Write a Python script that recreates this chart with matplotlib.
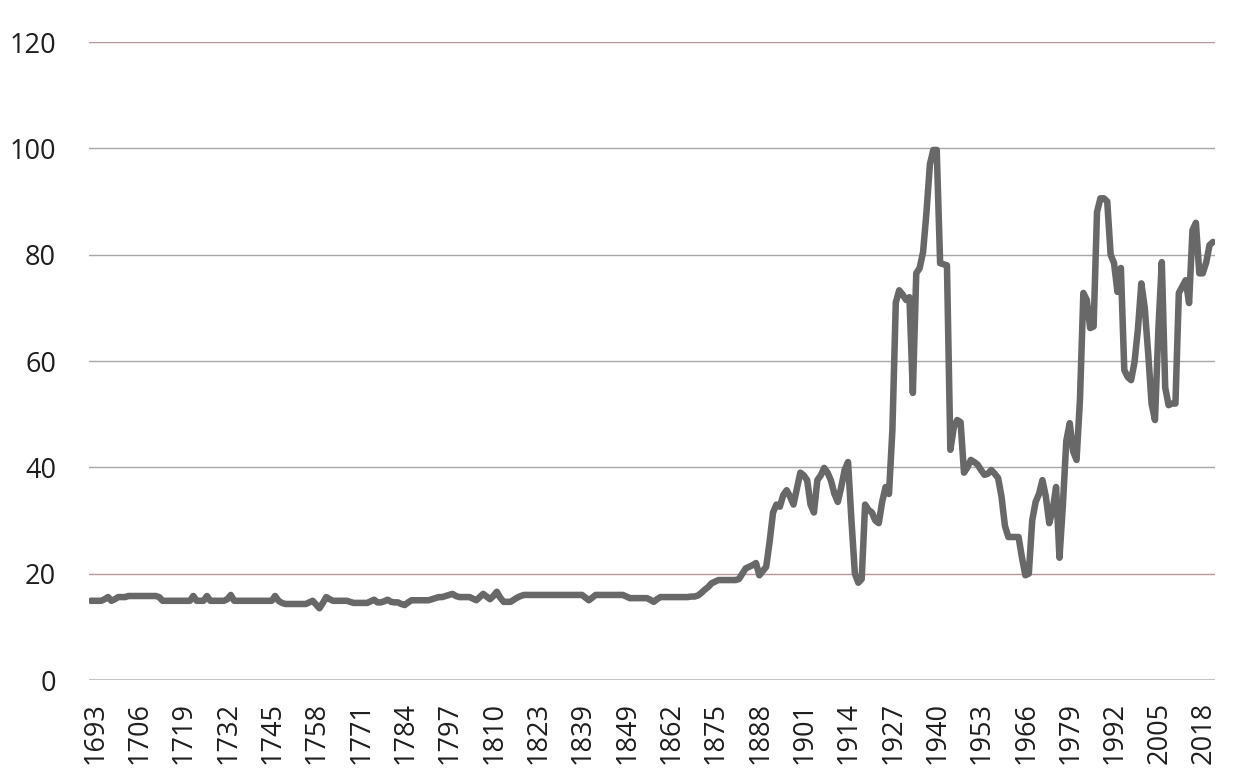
import numpy as np
import matplotlib
matplotlib.use("Agg")
import matplotlib.pyplot as plt
from matplotlib.transforms import ScaledTranslation

# one value per year, 1693 .. 2022
years = list(range(1693, 2023))
ratio = [
    14.9, 14.9, 14.9, 14.9, 15.2, 15.6, 14.9, 15.2, 15.6, 15.6,   # 1693
    15.6, 15.8, 15.8, 15.8, 15.8, 15.8, 15.8, 15.8, 15.8, 15.8,   # 1703
    15.6, 14.9, 14.9, 14.9, 14.9, 14.9, 14.9, 14.9, 14.9, 14.9,   # 1713
    15.8, 14.9, 14.9, 14.9, 15.8, 14.9, 14.9, 14.9, 14.9, 14.9,   # 1723
    15.2, 16.0, 14.9, 14.9, 14.9, 14.9, 14.9, 14.9, 14.9, 14.9,   # 1733
    14.9, 14.9, 14.9, 14.9, 15.8, 14.9, 14.5, 14.3, 14.3, 14.3,   # 1743
    14.3, 14.3, 14.3, 14.3, 14.6, 14.9, 14.2, 13.5, 14.5, 15.6,   # 1753
    15.2, 14.9, 14.9, 14.9, 14.9, 14.9, 14.7, 14.5, 14.5, 14.5,   # 1763
    14.5, 14.5, 14.8, 15.1, 14.6, 14.6, 14.8, 15.1, 14.7, 14.6,   # 1773
    14.6, 14.3, 14.1, 14.6, 15.0, 15.0, 15.0, 15.0, 15.0, 15.0,   # 1783
    15.2, 15.4, 15.6, 15.6, 15.8, 16.0, 16.2, 15.8, 15.6, 15.6,   # 1793
    15.6, 15.6, 15.3, 15.0, 15.6, 16.2, 15.7, 15.2, 15.8, 16.6,   # 1803
    15.5, 14.7, 14.7, 14.7, 15.1, 15.5, 15.8, 16.0, 16.0, 16.0,   # 1813
    16.0, 16.0, 16.0, 16.0, 16.0, 16.0, 16.0, 16.0, 16.0, 16.0,   # 1823
    16.0, 16.0, 16.0, 16.0, 16.0, 15.5, 15.0, 15.5, 16.0, 16.0,   # 1833
    16.0, 16.0, 16.0, 16.0, 16.0, 16.0, 16.0, 15.7, 15.4, 15.4,   # 1843
    15.4, 15.4, 15.4, 15.4, 15.1, 14.7, 15.2, 15.6, 15.6, 15.6,   # 1853
    15.6, 15.6, 15.6, 15.6, 15.6, 15.6, 15.7, 15.7, 15.9, 16.4,   # 1863
    17.0, 17.5, 18.2, 18.5, 18.8, 18.8, 18.8, 18.8, 18.8, 18.8,   # 1873
    19.0, 20.0, 21.0, 21.3, 21.6, 22.0, 19.7, 20.5, 21.3, 26.0,   # 1883
    31.5, 33.0, 32.6, 34.8, 35.7, 34.5, 33.0, 36.0, 39.0, 38.5,   # 1893
    37.6, 33.0, 31.5, 37.6, 38.5, 39.9, 39.0, 37.5, 35.0, 33.5,   # 1903
    36.3, 39.5, 41.0, 30.0, 20.0, 18.3, 19.0, 33.0, 32.0, 31.5,   # 1913
    30.0, 29.5, 33.5, 36.3, 35.0, 47.0, 71.0, 73.3, 72.5, 71.5,   # 1923
    72.0, 54.0, 76.5, 77.5, 80.5, 88.0, 97.0, 99.7, 99.7, 78.4,   # 1933
    78.2, 78.0, 43.3, 47.5, 48.9, 48.5, 39.0, 40.0, 41.4, 41.0,   # 1943
    40.5, 39.5, 38.6, 38.8, 39.5, 38.8, 38.0, 34.5, 29.0, 26.9,   # 1953
    26.9, 26.9, 26.9, 23.0, 19.7, 20.0, 30.0, 33.5, 35.0, 37.6,   # 1963
    34.5, 29.5, 32.0, 36.3, 23.0, 33.0, 45.0, 48.3, 43.0, 41.4,   # 1973
    52.7, 72.8, 71.5, 66.2, 66.5, 88.0, 90.6, 90.6, 90.0, 80.0,   # 1983
    78.4, 73.0, 77.5, 58.3, 57.0, 56.4, 59.8, 66.0, 74.6, 70.0,   # 1993
    61.5, 52.0, 48.9, 66.0, 78.6, 55.0, 51.7, 52.0, 52.0, 72.8,   # 2003
    74.0, 75.2, 70.9, 84.6, 86.0, 76.5, 76.5, 78.5, 81.8, 82.4,   # 2013
]

tick_labels = ["1693", "1706", "1719", "1732", "1745", "1758", "1771", "1784",
               "1797", "1810", "1823", "1839", "1849", "1862", "1875", "1888",
               "1901", "1914", "1927", "1940", "1953", "1966", "1979", "1992",
               "2005", "2018"]
y_ticks = [0, 20, 40, 60, 80, 100, 120]

plt.rcParams['font.family'] = ['Open Sans', 'DejaVu Sans']

fig = plt.figure(figsize=(12.33, 7.8), dpi=100)
ax = fig.add_axes([0.0724, 0.1282, 0.9130, 0.8179])

x = np.arange(len(years))

# gridlines (20 and 120 are reddish in the original)
for v in y_ticks[1:]:
    c = '#b8969b' if v in (20, 120) else '#a8a8a8'
    ax.axhline(v, color=c, lw=1.0, zorder=1)
ax.axhline(0, color='#bdbdbd', lw=2.0, zorder=1)

ax.plot(x, ratio, color='#686868', lw=4.7, solid_joinstyle='round',
        solid_capstyle='round', zorder=3)

ax.set_xlim(-0.5, 329.6)
ax.set_ylim(0, 120)
ax.set_yticks(y_ticks)
ax.set_xticks(x[::13])
ax.set_xticklabels(tick_labels, rotation=90)

for s in ax.spines.values():
    s.set_visible(False)
ax.tick_params(axis='y', length=0, pad=24, labelsize=19.5, labelcolor='#1e1e1e')
ax.tick_params(axis='x', length=0, pad=16, labelsize=19.5, labelcolor='#1e1e1e')

# labels sit a few pixels right of their categories in the original
shift = ScaledTranslation(3 / 72, 0, fig.dpi_scale_trans)
for lab in ax.get_xticklabels():
    lab.set_transform(lab.get_transform() + shift)

fig.savefig("out.png", dpi=100, facecolor='white')
